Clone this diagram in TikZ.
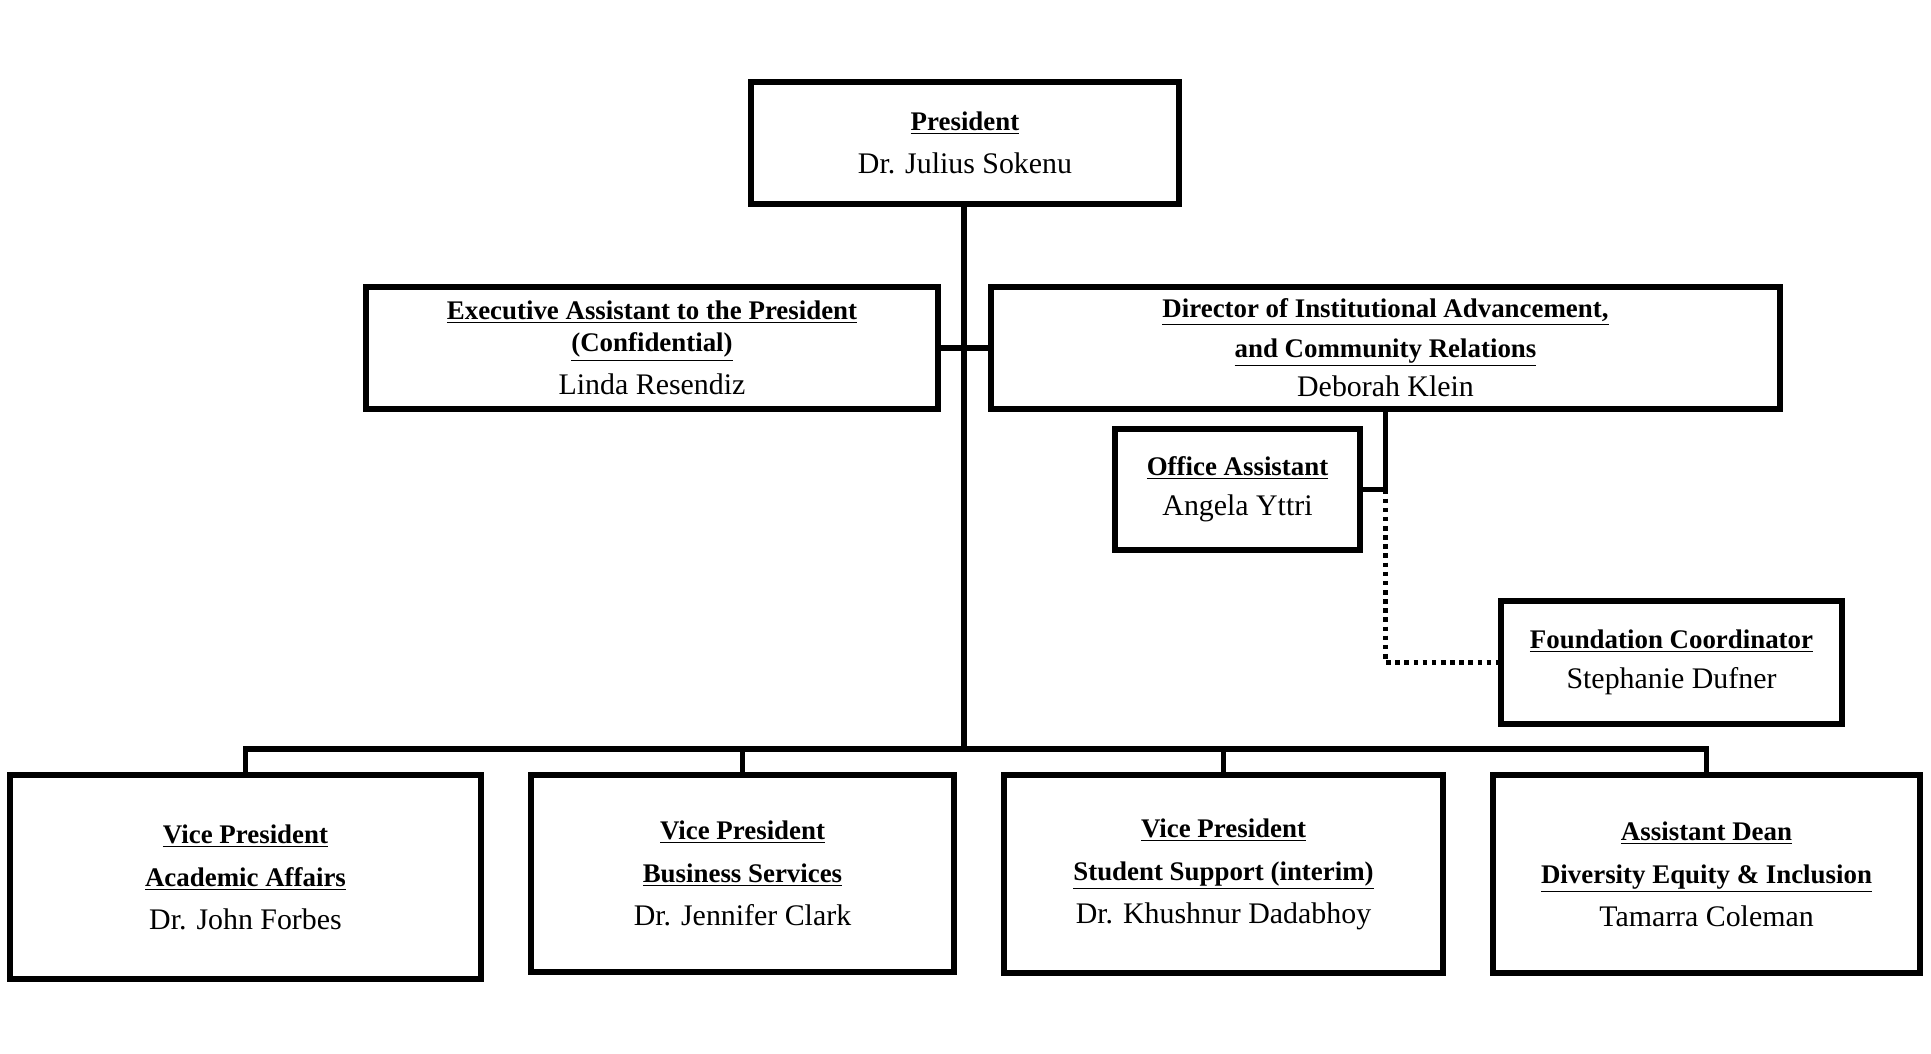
\documentclass[tikz,border=0pt]{standalone}
\usepackage{fontspec}
\setmainfont{Liberation Serif}
\usetikzlibrary{positioning,calc}

\newcommand{\ttl}[1]{{\fontsize{15.3}{24.5}\selectfont\underline{\textbf{#1}}}}

\tikzset{
  post/.style={draw, line width=3pt, align=center, inner sep=0pt,
    font=\fontsize{17}{24.5}\selectfont},
  link/.style={line width=3pt},
  dotlink/.style={line width=3pt, dash pattern=on 2.6pt off 2.6pt}
}

\begin{document}
\begin{tikzpicture}
  \useasboundingbox (0,0) rectangle (38.62,-21.06);
  \node[post, minimum width=8.56cm, minimum height=2.44cm]  (president) at (19.30,-2.86)
    {\ttl{President}\\Dr. Julius Sokenu};
  \node[post, minimum width=11.44cm, minimum height=2.44cm] (exec)      at (13.04,-6.96)
    {\ttl{Executive Assistant to the President}\\[-6pt]\ttl{(Confidential)}\\Linda Resendiz};
  \node[post, minimum width=15.78cm, minimum height=2.44cm] (director)  at (27.71,-6.96)
    {\ttl{Director of  Institutional Advancement,}\\[-2pt]\ttl{and Community Relations}\\[-2pt]Deborah Klein};
  \node[post, minimum width=4.90cm, minimum height=2.42cm]  (office)    at (24.75,-9.79)
    {\ttl{Office Assistant}\\[-2pt]Angela Yttri};
  \node[post, minimum width=6.82cm, minimum height=2.46cm]  (foundation) at (33.43,-13.25)
    {\ttl{Foundation Coordinator}\\[-2pt]Stephanie Dufner};
  \node[post, minimum width=9.42cm, minimum height=4.08cm]  (vp academic) at (4.91,-17.54)
    {\ttl{Vice President}\\\ttl{Academic Affairs}\\Dr. John Forbes};
  \node[post, minimum width=8.46cm, minimum height=3.94cm]  (vp business) at (14.85,-17.47)
    {\ttl{Vice President}\\\ttl{Business Services}\\Dr. Jennifer Clark};
  \node[post, minimum width=8.78cm, minimum height=3.96cm]  (vp student) at (24.47,-17.48)
    {\ttl{Vice President}\\\ttl{Student Support (interim)}\\Dr. Khushnur Dadabhoy};
  \node[post, minimum width=8.54cm, minimum height=3.96cm]  (dean)      at (34.13,-17.48)
    {\ttl{Assistant Dean}\\\ttl{Diversity Equity \& Inclusion}\\Tamarra Coleman};

  \coordinate (bus) at (19.28,-14.98);
  \draw[link] (president.south -| bus) -- (bus);
  \draw[link] (exec.east) -- (director.west);
  \draw[link] (vp academic.north) |- (bus) -| (dean.north);
  \draw[link] (vp business.north) -- (vp business.north |- bus);
  \draw[link] (vp student.north) -- (vp student.north |- bus);
  \draw[link] (director.south) -- (director.south |- office.east) -- (office.east);
  \draw[dotlink] (director.south |- office.east) |- (foundation.west);
\end{tikzpicture}
\end{document}
